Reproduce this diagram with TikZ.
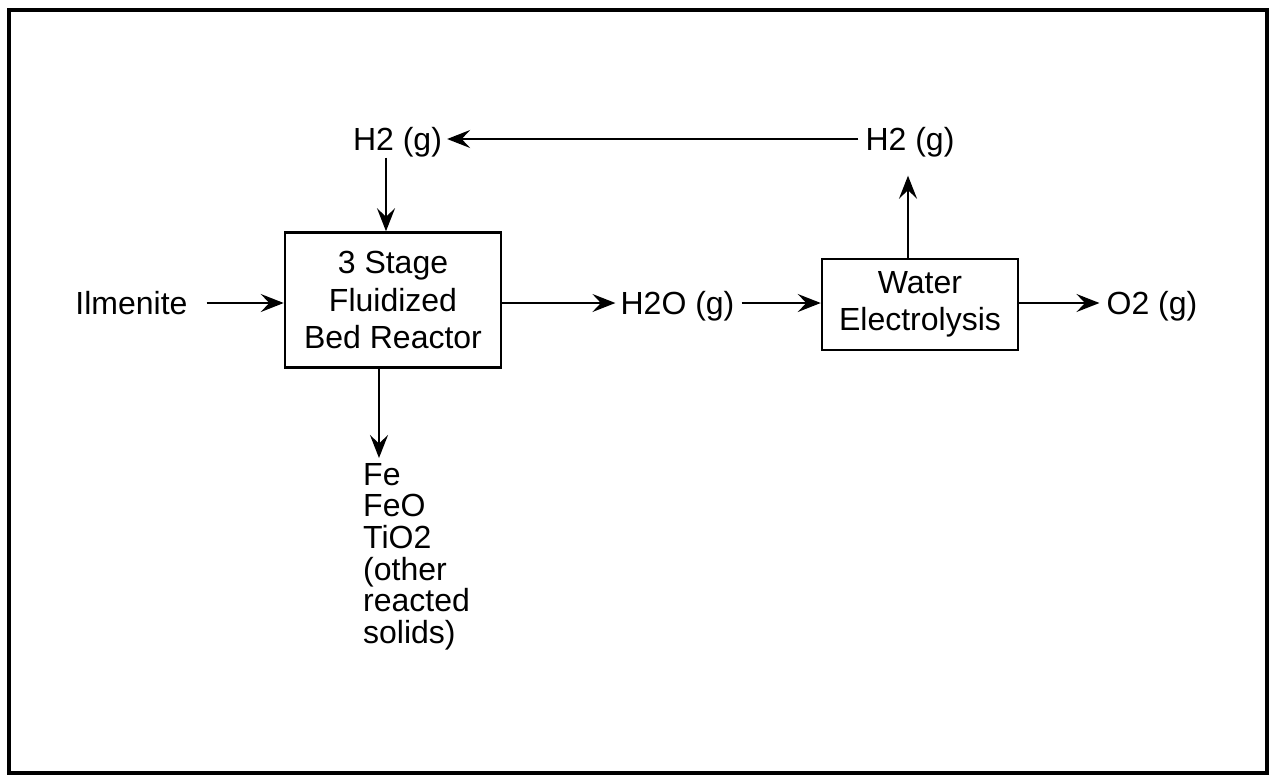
\documentclass[tikz,border=0pt]{standalone}
\usepackage{fontspec}
\setmainfont{Liberation Sans}
\usetikzlibrary{arrows.meta}
\begin{document}
\begin{tikzpicture}[x=1pt,y=-1pt,
  every node/.style={font=\fontsize{32}{37.5}\selectfont},
  lbl/.style={inner sep=0pt, text height=23pt, text depth=0pt},
  proc/.style={draw, line width=2.5pt, inner sep=0pt, align=center},
  arr/.style={line width=1.8pt, -{Stealth[length=23pt,width=18pt,inset=8.5pt]}},
  frame/.style={line width=3.5pt}]
\useasboundingbox (0,0) rectangle (1274,780);
\draw[frame] (9,10) rectangle (1267,773);

\node[proc, minimum width=216pt, minimum height=135pt] (reactor) at (393,300) {3 Stage\\Fluidized\\Bed Reactor};
\node[proc, minimum width=196pt, minimum height=91pt] (elec) at (920,304.5) {Water\\Electrolysis};
\node[lbl] (ilm) at (131.5,303) {Ilmenite};
\node[lbl] (h2o) at (677.5,303) {H2O (g)};
\node[lbl] (o2) at (1152,303) {O2 (g)};
\node[lbl] (h2l) at (397.5,139) {H2 (g)};
\node[lbl] (h2r) at (910,139) {H2 (g)};
\node[anchor=north west, inner sep=0pt, align=left, font=\fontsize{32}{31.6}\selectfont] (solids) at (363,463) {Fe\\FeO\\TiO2\\(other\\reacted\\solids)};

\draw[arr, shorten <=19pt] (ilm.east) -- (ilm.east -| reactor.west);
\draw[arr, shorten >=5pt] (reactor.east |- h2o.west) -- (h2o.west);
\draw[arr, shorten <=7pt] (h2o.east) -- (h2o.east -| elec.west);
\draw[arr, shorten >=7pt] (elec.east |- o2.west) -- (o2.west);
\draw[arr, shorten <=7pt, shorten >=5pt] (h2r.west) -- (h2l.east);
\draw[arr, shorten <=7pt] ([xshift=-11.5pt]h2l.south) -- ([xshift=-11.5pt]h2l.south |- reactor.north);
\draw[arr, shorten >=25pt] ([xshift=-12pt]elec.north) -- ([xshift=-12pt]elec.north |- h2r.south);
\draw[arr, shorten >=5pt] ([xshift=-14pt]reactor.south) -- ([xshift=-14pt]reactor.south |- solids.north);
\end{tikzpicture}
\end{document}
